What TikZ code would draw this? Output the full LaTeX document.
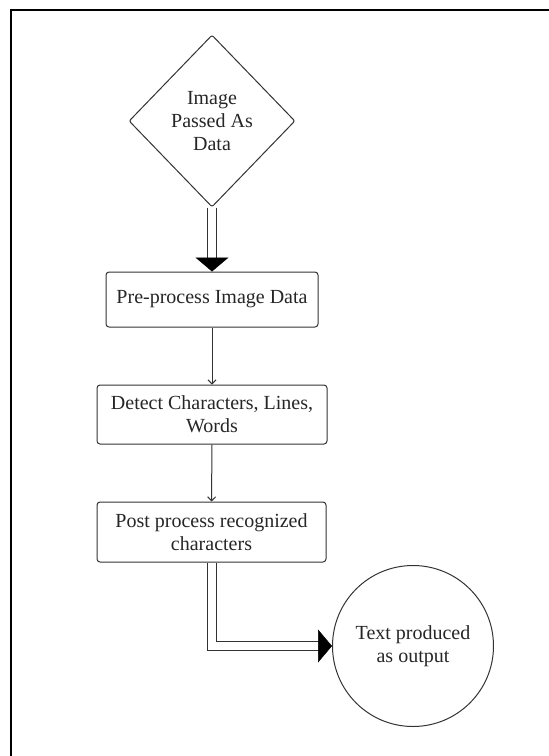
\documentclass[tikz,border=0pt]{standalone}
\usepackage{fontspec}
\setmainfont{Liberation Serif}
\usetikzlibrary{shapes.geometric,arrows.meta}
\begin{document}
\begin{tikzpicture}[x=1pt,y=-1pt,
  every node/.style={font=\fontsize{20}{23}\selectfont, text=black!85},
  shapeline/.style={draw=black!80, line width=1pt},
  procbox/.style={shapeline, rectangle, rounded corners=3pt, align=center, inner sep=2pt},
  decision/.style={shapeline, diamond, rounded corners=2pt, align=center, inner sep=2pt, minimum width=166pt, minimum height=172pt},
  terminal/.style={shapeline, circle, align=center, inner sep=2pt, minimum size=161pt},
  dblline/.style={draw=black!80, line width=1pt, double=white, double distance=8pt, shorten >=13pt},
  tipline/.style={draw=white, line width=0.5pt, shorten <=2pt, -{Triangle[width=33pt,length=14pt,color=black]}},
  thinarrow/.style={draw=black!80, line width=1pt, -{Straight Barb[length=4pt,width=8pt]}}
]
\useasboundingbox (0,0) rectangle (549,756);
\clip (0,0) rectangle (549,756);
\draw[line width=2pt] (11,10) rectangle (620,820);

\node[decision] (d) at (212,121) {Image\\Passed As\\Data};
\node[procbox, minimum width=212pt, minimum height=55pt] (b1) at (212,299.5) {Pre-process Image Data};
\node[procbox, minimum width=230pt, minimum height=59pt] (b2) at (212,414.5) {Detect Characters, Lines,\\Words};
\node[procbox, minimum width=229pt, minimum height=60pt] (b3) at (211.5,532) {Post process recognized\\characters};
\node[terminal] (c) at (413,646) {Text produced\\as output};

\draw[dblline] (d.south) -- (b1.north);
\draw[tipline] (d.south) -- (b1.north);
\draw[thinarrow] (b1) -- (b2);
\draw[thinarrow] (b2) -- (b3);
\draw[dblline] (b3.south) |- (c.west);
\draw[tipline] (b3.south) |- (c.west);
\end{tikzpicture}
\end{document}
